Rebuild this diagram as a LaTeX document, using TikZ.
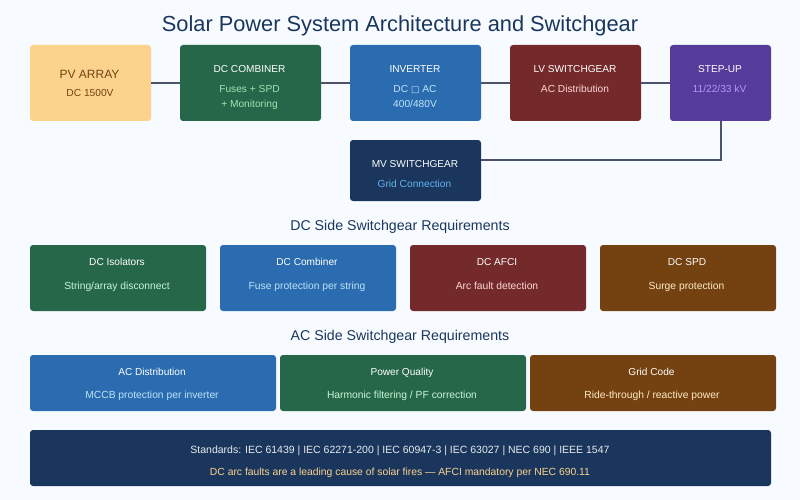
\documentclass[tikz,border=0pt]{standalone}
\usepackage{fontspec}
\setmainfont{Liberation Sans}
\newfontfamily\symfont{DejaVu Sans}
\definecolor{bgc}{HTML}{F7FBFF}
\definecolor{navy}{HTML}{1A365D}
\definecolor{wire}{HTML}{4A5568}
\definecolor{sun}{HTML}{FBD38D}
\definecolor{sunk}{HTML}{744210}
\definecolor{grn}{HTML}{276749}
\definecolor{grnl}{HTML}{9AE6B4}
\definecolor{blu}{HTML}{2B6CB0}
\definecolor{blul}{HTML}{BEE3F8}
\definecolor{red7}{HTML}{742A2A}
\definecolor{redl}{HTML}{FED7D7}
\definecolor{pur}{HTML}{553C9A}
\definecolor{purl}{HTML}{B794F4}
\definecolor{sky}{HTML}{63B3ED}
\definecolor{grnc}{HTML}{C6F6D5}
\definecolor{brnc}{HTML}{FEEBC8}
\newcommand{\fs}[1]{\fontsize{#1}{#1}\selectfont}
\tikzset{
  panel/.style={inner sep=0pt,outer sep=0pt,rounded corners=3pt,draw=none},
  txt/.style={inner sep=0pt,outer sep=0pt,anchor=base},
  wirel/.style={draw=wire,line width=2pt},
  big/.style={txt,font=\fs{21.8}},
  sect/.style={txt,font=\fs{14.2},text=navy},
  head/.style={txt,font=\fs{10.1},text=white},
  sub/.style={txt,font=\fs{10.2}},
  chead/.style={txt,font=\fs{10.1},text=white},
  csub/.style={txt,font=\fs{10.3}}
}
% name, x1, y1, x2, y2, fill
\newcommand{\panelbox}[6]{\path[panel,fill=#6] (#2,#3) rectangle (#4,#5);
  \node[inner sep=0pt,outer sep=0pt,minimum width=#4pt-#2pt,minimum height=#5pt-#3pt] (#1) at ({(#2+#4)/2},{(#3+#5)/2}) {};}
\begin{document}
\begin{tikzpicture}[x=1pt,y=-1pt]
\useasboundingbox (0,0) rectangle (800,500);
\fill[bgc] (0,0) rectangle (800,500);
\node[big,text=navy] (title) at (400,31.5) {Solar Power System Architecture and Switchgear};

\panelbox{pv}{30}{45}{151}{121}{sun}
\panelbox{comb}{180}{45}{321}{121}{grn}
\panelbox{inv}{350}{45}{481}{121}{blu}
\panelbox{lv}{510}{45}{641}{121}{red7}
\panelbox{stepup}{670}{45}{771}{121}{pur}
\panelbox{mv}{350}{140}{481}{201}{navy}
\coordinate (mvin) at (481,160);

\draw[wirel] (pv) -- (comb);
\draw[wirel] (comb) -- (inv);
\draw[wirel] (inv) -- (lv);
\draw[wirel] (lv) -- (stepup);
\draw[wirel] (stepup.south) |- (mvin);

\node[txt,font=\fs{12},text=sunk] (t1) at (89.5,79) {PV ARRAY};
\node[sub,text=sunk] (t2) at (90,97) {DC 1500V};
\node[head] (t3) at (249.5,72.5) {DC COMBINER};
\node[sub,text=grnl] (t4) at (249.5,92.5) {Fuses + SPD};
\node[sub,text=grnl] (t5) at (249.5,107.5) {+ Monitoring};
\node[head] (t6) at (415,72.5) {INVERTER};
\node[sub,text=blul] (t7) at (415,92.5) {DC {\symfont\fs{9}□} AC};
\node[sub,text=blul] (t8) at (415,107.5) {400/480V};
\node[head] (t9) at (575,72.5) {LV SWITCHGEAR};
\node[sub,text=redl] (t10) at (575,92.5) {AC Distribution};
\node[head] (t11) at (720,72.5) {STEP-UP};
\node[sub,text=purl] (t12) at (719.5,92.5) {11/22/33 kV};
\node[head] (t13) at (415,167) {MV SWITCHGEAR};
\node[sub,text=sky] (t14) at (414.5,187.5) {Grid Connection};

\node[sect] (s1) at (400,230) {DC Side Switchgear Requirements};
\panelbox{c1}{30}{245}{206}{311}{grn}
\panelbox{c2}{220}{245}{396}{311}{blu}
\panelbox{c3}{410}{245}{586}{311}{red7}
\panelbox{c4}{600}{245}{776}{311}{sunk}
\node[chead] (c1a) at (117,265) {DC Isolators};
\node[csub,text=grnc] (c1b) at (117,289) {String/array disconnect};
\node[chead] (c2a) at (307,265) {DC Combiner};
\node[csub,text=blul] (c2b) at (307,289) {Fuse protection per string};
\node[chead] (c3a) at (497,265) {DC AFCI};
\node[csub,text=redl] (c3b) at (497,289) {Arc fault detection};
\node[chead] (c4a) at (687,265) {DC SPD};
\node[csub,text=brnc] (c4b) at (686.5,289) {Surge protection};

\node[sect] (s2) at (400,340) {AC Side Switchgear Requirements};
\panelbox{a1}{30}{355}{276}{411}{blu}
\panelbox{a2}{280}{355}{526}{411}{grn}
\panelbox{a3}{530}{355}{776}{411}{sunk}
\node[chead] (a1a) at (152,375) {AC Distribution};
\node[csub,text=blul] (a1b) at (152,398) {MCCB protection per inverter};
\node[chead] (a2a) at (402,375) {Power Quality};
\node[csub,text=grnc] (a2b) at (402,398) {Harmonic filtering / PF correction};
\node[chead] (a3a) at (651.5,375) {Grid Code};
\node[csub,text=brnc] (a3b) at (652,398) {Ride-through / reactive power};

\panelbox{std}{30}{430}{771}{486}{navy}
\node[txt,font=\fs{10.5},text=white!90!navy] (b1) at (400,453) {Standards: IEC 61439 | IEC 62271-200 | IEC 60947-3 | IEC 63027 | NEC 690 | IEEE 1547};
\node[csub,font=\fs{10.35},text=sun] (b2) at (400,475) {DC arc faults are a leading cause of solar fires — AFCI mandatory per NEC 690.11};
\end{tikzpicture}
\end{document}
